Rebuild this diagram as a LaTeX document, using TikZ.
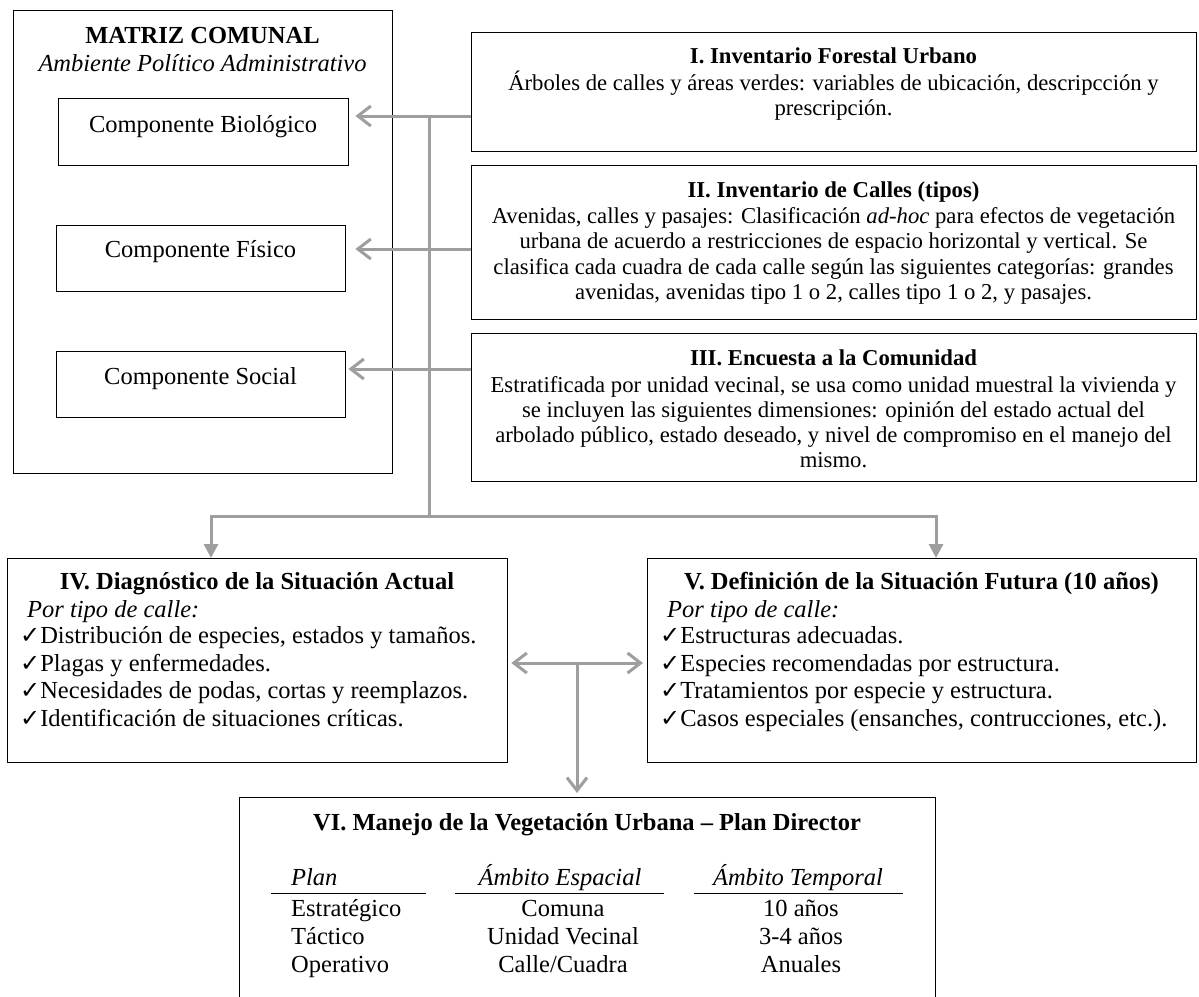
\documentclass[tikz,border=0pt]{standalone}
\usepackage{fontspec}
\setmainfont{Liberation Serif}
\newfontfamily\symfont{DejaVu Sans}
\usetikzlibrary{arrows.meta}
\definecolor{arrgray}{RGB}{158,158,158}
\newcommand{\ck}{{\symfont\fontsize{24}{24}\selectfont ✓}}
\begin{document}
\begin{tikzpicture}[x=1pt,y=-1pt,
  box/.style={draw, line width=1.4pt, inner sep=0pt, anchor=north west},
  sm/.style={inner sep=0pt, font=\fontsize{22.7}{25.6}\selectfont, align=center, anchor=base},
  lg/.style={inner sep=0pt, font=\fontsize{24.5}{27.4}\selectfont, anchor=base},
  lgl/.style={lg, anchor=base west, align=left},
  conn/.style={draw=arrgray, line width=3pt},
  barb/.style={-{Straight Barb[length=13pt,width=20pt]}},
  dbarb/.style={{Straight Barb[length=13pt,width=20pt]}-{Straight Barb[length=13pt,width=20pt]}},
  tri/.style={{Triangle[length=14pt,width=14pt]}-{Triangle[length=14pt,width=14pt]}},
  rule/.style={line width=1pt}
]
\useasboundingbox (0,0) rectangle (1199,996);
\clip (0,0) rectangle (1199,996);
\fill[white] (0,0) rectangle (1199,996);

% ---- left matrix box
\node[box, minimum width=379pt, minimum height=463pt] (m) at (13,10) {};
\node[lg, font=\fontsize{24.5}{27}\selectfont\bfseries] (mt) at (202.5,43) {MATRIZ COMUNAL};
\node[lg, font=\fontsize{24.5}{27}\selectfont\itshape] (ms) at (202.5,71) {Ambiente Político Administrativo};

\node[box, minimum width=290pt, minimum height=67pt] (bio) at (58,98) {};
\node[lg] (biot) at (203,132) {Componente Biológico};
\node[box, minimum width=289pt, minimum height=66pt] (fis) at (56,225) {};
\node[lg] (fist) at (200.5,257) {Componente Físico};
\node[box, minimum width=289pt, minimum height=66pt] (soc) at (56,351) {};
\node[lg] (soct) at (200.5,384) {Componente Social};

% ---- right inventory boxes (multi-line nodes: base = last line)
\node[box, minimum width=725pt, minimum height=119pt] (b1) at (471,32) {};
\node[sm, font=\fontsize{22.7}{25.6}\selectfont\bfseries] (b1t) at (833.5,63) {I. Inventario Forestal Urbano};
\node[sm] (b1b) at (833.5,115.6) {Árboles de calles y áreas verdes: variables de ubicación, descripcción y\\prescripción.};

\node[box, minimum width=725pt, minimum height=154pt] (b2) at (471,165) {};
\node[sm, font=\fontsize{22.7}{25.6}\selectfont\bfseries] (b2t) at (833.5,197) {II. Inventario de Calles (tipos)};
\node[sm] (b2b) at (833.5,299.8) {Avenidas, calles y pasajes: Clasificación \textit{ad-hoc} para efectos de vegetación\\urbana de acuerdo a restricciones de espacio horizontal y vertical. Se\\clasifica cada cuadra de cada calle según las siguientes categorías: grandes\\avenidas, avenidas tipo 1 o 2, calles tipo 1 o 2, y pasajes.};

\node[box, minimum width=725pt, minimum height=148pt] (b3) at (471,333) {};
\node[sm, font=\fontsize{22.7}{25.6}\selectfont\bfseries] (b3t) at (833.5,365) {III. Encuesta a la Comunidad};
\node[sm, font=\fontsize{22.7}{25}\selectfont] (b3b) at (833.5,467) {Estratificada por unidad vecinal, se usa como unidad muestral la vivienda y\\se incluyen las siguientes dimensiones: opinión del estado actual del\\arbolado público, estado deseado, y nivel de compromiso en el manejo del\\mismo.};

% ---- IV and V
\node[box, minimum width=500pt, minimum height=204pt] (b4) at (7,558) {};
\node[lg, font=\fontsize{24.5}{27}\selectfont\bfseries] (b4t) at (257,589) {IV. Diagnóstico de la Situación Actual};
\node[lgl, font=\fontsize{24.5}{27}\selectfont\itshape] (b4s) at (27,617) {Por tipo de calle:};
\node[lgl] (b4l) at (20,726) {\ck Distribución de especies, estados y tamaños.\\\ck Plagas y enfermedades.\\\ck Necesidades de podas, cortas y reemplazos.\\\ck Identificación de situaciones críticas.};

\node[box, minimum width=549pt, minimum height=204pt] (b5) at (647,558) {};
\node[lg, font=\fontsize{24.5}{27}\selectfont\bfseries] (b5t) at (921.5,589) {V. Definición de la Situación Futura (10 años)};
\node[lgl, font=\fontsize{24.5}{27}\selectfont\itshape] (b5s) at (667,617) {Por tipo de calle:};
\node[lgl] (b5l) at (660,726) {\ck Estructuras adecuadas.\\\ck Especies recomendadas por estructura.\\\ck Tratamientos por especie y estructura.\\\ck Casos especiales (ensanches, contrucciones, etc.).};

% ---- VI
\node[box, minimum width=696pt, minimum height=260pt] (b6) at (239,797) {};
\node[lg, font=\fontsize{24.5}{27}\selectfont\bfseries] (b6t) at (587,830) {VI. Manejo de la Vegetación Urbana – Plan Director};
\node[lgl, font=\fontsize{24.5}{27}\selectfont\itshape] (h1) at (291,885) {Plan};
\node[lg, font=\fontsize{24.5}{27}\selectfont\itshape] (h2) at (560,885) {Ámbito Espacial};
\node[lg, font=\fontsize{24.5}{27}\selectfont\itshape] (h3) at (798,885) {Ámbito Temporal};
\draw[rule] (271,893) -- (426,893);
\draw[rule] (455,893) -- (664,893);
\draw[rule] (694,893) -- (903,893);
\node[lgl] (r1a) at (291,916) {Estratégico};
\node[lg] (r1b) at (563,916) {Comuna};
\node[lg] (r1c) at (801,916) {10 años};
\node[lgl] (r2a) at (291,944) {Táctico};
\node[lg] (r2b) at (563,944) {Unidad Vecinal};
\node[lg] (r2c) at (801,944) {3-4 años};
\node[lgl] (r3a) at (291,972) {Operativo};
\node[lg] (r3b) at (563,972) {Calle/Cuadra};
\node[lg] (r3c) at (801,972) {Anuales};

% ---- connectors
\coordinate (j1) at (429,116);
\coordinate (j2) at (429,249);
\coordinate (j3) at (429,369);
\coordinate (jb) at (429,516);
\coordinate (c4) at (211,516);
\coordinate (c5) at (936,516);
\coordinate (dm) at (577,663);

\draw[conn] (j1) -- (jb);
\draw[conn, barb, shorten >=6pt] (b1.west |- j1) -- (bio.east |- j1);
\draw[conn, barb, shorten >=9pt] (b2.west |- j2) -- (fis.east |- j2);
\draw[conn, barb, shorten >=2pt] (b3.west |- j3) -- (soc.east |- j3);
\draw[conn, tri] (c4 |- b4.north) -- (c4) -- (c5) -- (c5 |- b5.north);
\draw[conn, dbarb, shorten <=3pt, shorten >=4pt] (b4.east |- dm) -- (b5.west |- dm);
\draw[conn, barb, shorten >=4pt] (dm) -- (dm |- b6.north);
\end{tikzpicture}
\end{document}
